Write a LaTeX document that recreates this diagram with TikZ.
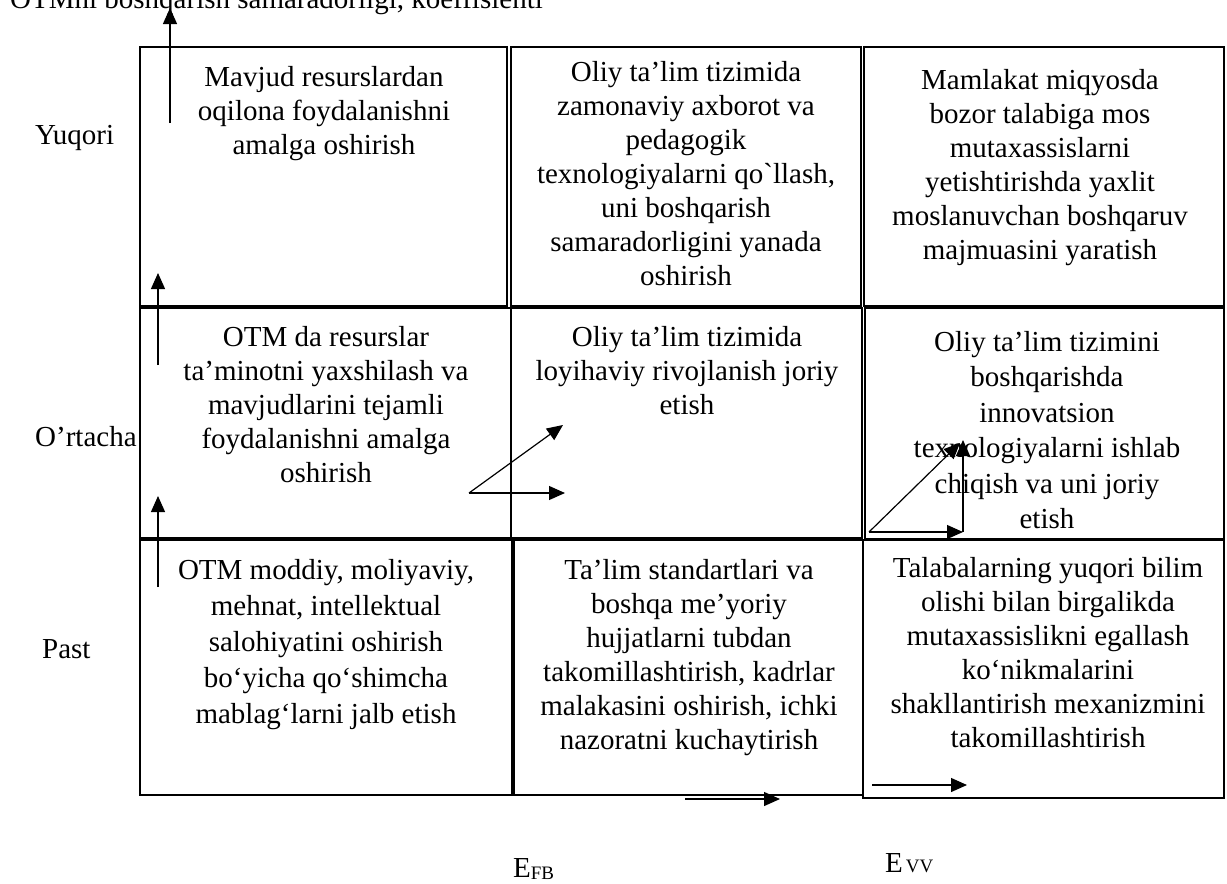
\documentclass[tikz,border=0pt]{standalone}
\usepackage{fontspec}
\setmainfont{Liberation Serif}[Ligatures=TeXOff]
\usetikzlibrary{arrows.meta}
\tikzset{
  boxcell/.style={draw, line width=1.2pt, inner sep=0pt, outer sep=0pt, anchor=north west},
  txt/.style={align=center, inner sep=0pt, anchor=north, font=\fontsize{29}{34}\selectfont},
  lbl/.style={inner sep=0pt, anchor=base west, font=\fontsize{29}{34}\selectfont},
  arr/.style={line width=1.2pt, -{Triangle[length=16pt,width=14pt]}},
}
\begin{document}
\begin{tikzpicture}[x=1pt,y=-1pt]
\useasboundingbox (0,0) rectangle (1227,884);
% boxes, row 1
\node[boxcell, minimum width=367, minimum height=259] (b11) at (140,47) {};
\node[boxcell, minimum width=350, minimum height=259] (b12) at (511,47) {};
\node[boxcell, minimum width=360, minimum height=259] (b13) at (864,47) {};
% row 2
\node[boxcell, minimum width=371, minimum height=230] (b21) at (140,308) {};
\node[boxcell, minimum width=351, minimum height=230] (b22) at (511,308) {};
\node[boxcell, minimum width=359, minimum height=231] (b23) at (865,308) {};
% row 3
\node[boxcell, minimum width=372, minimum height=255] (b31) at (140,540) {};
\node[boxcell, minimum width=349, minimum height=255] (b32) at (514,540) {};
\node[boxcell, minimum width=361, minimum height=258] (b33) at (863,540) {};
% texts
\node[txt] (t11) at (324,66) {Mavjud resurslardan\\oqilona foydalanishni\\amalga oshirish};
\node[txt] (t12) at (686,61) {Oliy ta’lim tizimida\\zamonaviy axborot va\\pedagogik\\texnologiyalarni qo`llash,\\uni boshqarish\\samaradorligini yanada\\oshirish};
\node[txt] (t13) at (1040,69) {Mamlakat miqyosda\\bozor talabiga mos\\mutaxassislarni\\yetishtirishda yaxlit\\moslanuvchan boshqaruv\\majmuasini yaratish};
\node[txt] (t21) at (326,326) {OTM da resurslar\\ta’minotni yaxshilash va\\mavjudlarini tejamli\\foydalanishni amalga\\oshirish};
\node[txt] (t22) at (687,326) {Oliy ta’lim tizimida\\loyihaviy rivojlanish joriy\\etish};
\node[txt, font=\fontsize{29}{35.5}\selectfont] (t23) at (1047,331) {Oliy ta’lim tizimini\\boshqarishda\\innovatsion\\texnologiyalarni ishlab\\chiqish va uni joriy\\etish};
\node[txt, font=\fontsize{29}{36}\selectfont] (t31) at (326,559) {OTM moddiy, moliyaviy,\\mehnat, intellektual\\salohiyatini oshirish\\bo‘yicha qo‘shimcha\\mablag‘larni jalb etish};
\node[txt] (t32) at (689,559) {Ta’lim standartlari va\\boshqa me’yoriy\\hujjatlarni tubdan\\takomillashtirish, kadrlar\\malakasini oshirish, ichki\\nazoratni kuchaytirish};
\node[txt] (t33) at (1048,557) {Talabalarning yuqori bilim\\olishi bilan birgalikda\\mutaxassislikni egallash\\ko‘nikmalarini\\shakllantirish mexanizmini\\takomillashtirish};
% labels
\node[lbl] (title) at (10,8) {OTMni boshqarish samaradorligi, koeffisienti};
\node[lbl] (yuqori) at (35,144) {Yuqori};
\node[lbl] (ortacha) at (35,446) {O’rtacha};
\node[lbl] (past) at (42,658) {Past};
\node[lbl] (efb) at (513,877) {E\raisebox{-2pt}{\fontsize{19}{19}\selectfont FB}};
\node[lbl] (evv) at (885,872) {E\hspace{3pt}{\fontsize{19}{19}\selectfont VV}};
% arrow coordinates
\coordinate (a1s) at (170,123); \coordinate (a1e) at (170,8);
\coordinate (a2s) at (158,365); \coordinate (a2e) at (158,273);
\coordinate (a3s) at (158,587); \coordinate (a3e) at (158,496);
\coordinate (m0) at (469,493); \coordinate (m1) at (563,425); \coordinate (m2) at (565,493);
\coordinate (r0) at (869,532); \coordinate (r1) at (963,532); \coordinate (r2) at (963,440); \coordinate (r3) at (960,443);
\coordinate (h1s) at (685,799); \coordinate (h1e) at (780,799);
\coordinate (h2s) at (872,785); \coordinate (h2e) at (967,785);
% arrows
\draw[arr] (a1s) -- (a1e);
\draw[arr] (a2s) -- (a2e);
\draw[arr] (a3s) -- (a3e);
\draw[arr] (m0) -- (m1);
\draw[arr] (m0) -- (m2);
\draw[arr] (r0) -- (r1);
\draw[arr] (r1) -- (r2);
\draw[arr] (r0) -- (r3);
\draw[arr] (h1s) -- (h1e);
\draw[arr] (h2s) -- (h2e);
\end{tikzpicture}
\end{document}
